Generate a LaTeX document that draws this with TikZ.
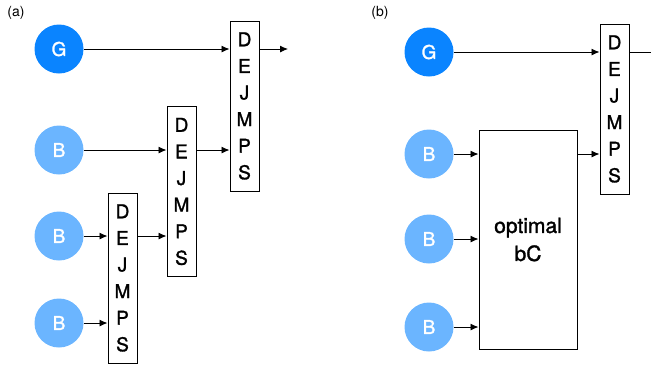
\documentclass[tikz,border=0pt]{standalone}
\usepackage{fontspec}
\setmainfont{TeX Gyre Heros}
\newfontfamily\medfont[FakeBold=1.5]{TeX Gyre Heros}
\usetikzlibrary{arrows.meta}
\definecolor{gblue}{HTML}{0A84FF}
\definecolor{bblue}{HTML}{6BB5FF}
\tikzset{
  src/.style={circle, minimum size=49pt, inner sep=0pt, text=white, font=\medfont\fontsize{19}{19}\selectfont},
  gsrc/.style={src, fill=gblue},
  bsrc/.style={src, fill=bblue},
  purif/.style={draw, line width=1pt, minimum width=29pt, minimum height=170pt, inner sep=0pt,
    font=\medfont\fontsize{19}{26.6}\selectfont, align=center},
  optbox/.style={draw, line width=1pt, minimum width=98pt, minimum height=219pt, inner sep=0pt,
    font=\medfont\fontsize{21}{28}\selectfont, align=center},
  flow/.style={-{Latex[length=8pt,width=7pt]}, line width=0.9pt},
  tag/.style={font=\fontsize{14}{14}\selectfont}
}
\begin{document}
\begin{tikzpicture}[x=1pt,y=-1pt]
\useasboundingbox (0,0) rectangle (651,368);

% ---- panel (a): nested purification chain ----
\node[tag] (la) at (16,13) {(a)};
\node[gsrc] (ga) at (59,49) {G};
\node[bsrc] (ba1) at (59,150) {B};
\node[bsrc] (ba2) at (59,236) {B};
\node[bsrc] (ba3) at (59,323) {B};

\node[purif] (p3) at (244.5,106) {D\\E\\J\\M\\P\\S};
\node[purif] (p2) at (181.5,191.5) {D\\E\\J\\M\\P\\S};
\node[purif] (p1) at (122.5,278) {D\\E\\J\\M\\P\\S};
\coordinate (outa) at (288,49);

\draw[flow] (ga) -- (ga -| p3.west);
\draw[flow] (p3.east |- ga) -- (outa);
\draw[flow] (ba1) -- (ba1 -| p2.west);
\draw[flow] (p2.east |- ba1) -- (ba1 -| p3.west);
\draw[flow] (ba2) -- (ba2 -| p1.west);
\draw[flow] (p1.east |- ba2) -- (ba2 -| p2.west);
\draw[flow] (ba3) -- (ba3 -| p1.west);

% ---- panel (b): optimal block feeding one purification ----
\node[tag] (lb) at (380,13) {(b)};
\node[gsrc] (gb) at (429,52) {G};
\node[bsrc] (bb1) at (429,154) {B};
\node[bsrc] (bb2) at (429,239) {B};
\node[bsrc] (bb3) at (429,327) {B};

\node[optbox] (opt) at (528,239.5) {optimal\\bC};
\node[purif] (pb) at (614.5,109) {D\\E\\J\\M\\P\\S};
\coordinate (outb) at (662,52);

\draw[flow] (gb) -- (gb -| pb.west);
\draw[flow] (pb.east |- gb) -- (outb);
\draw[flow] (bb1) -- (bb1 -| opt.west);
\draw[flow] (bb2) -- (bb2 -| opt.west);
\draw[flow] (bb3) -- (bb3 -| opt.west);
\draw[flow] (opt.east |- bb1) -- (bb1 -| pb.west);
\end{tikzpicture}
\end{document}
